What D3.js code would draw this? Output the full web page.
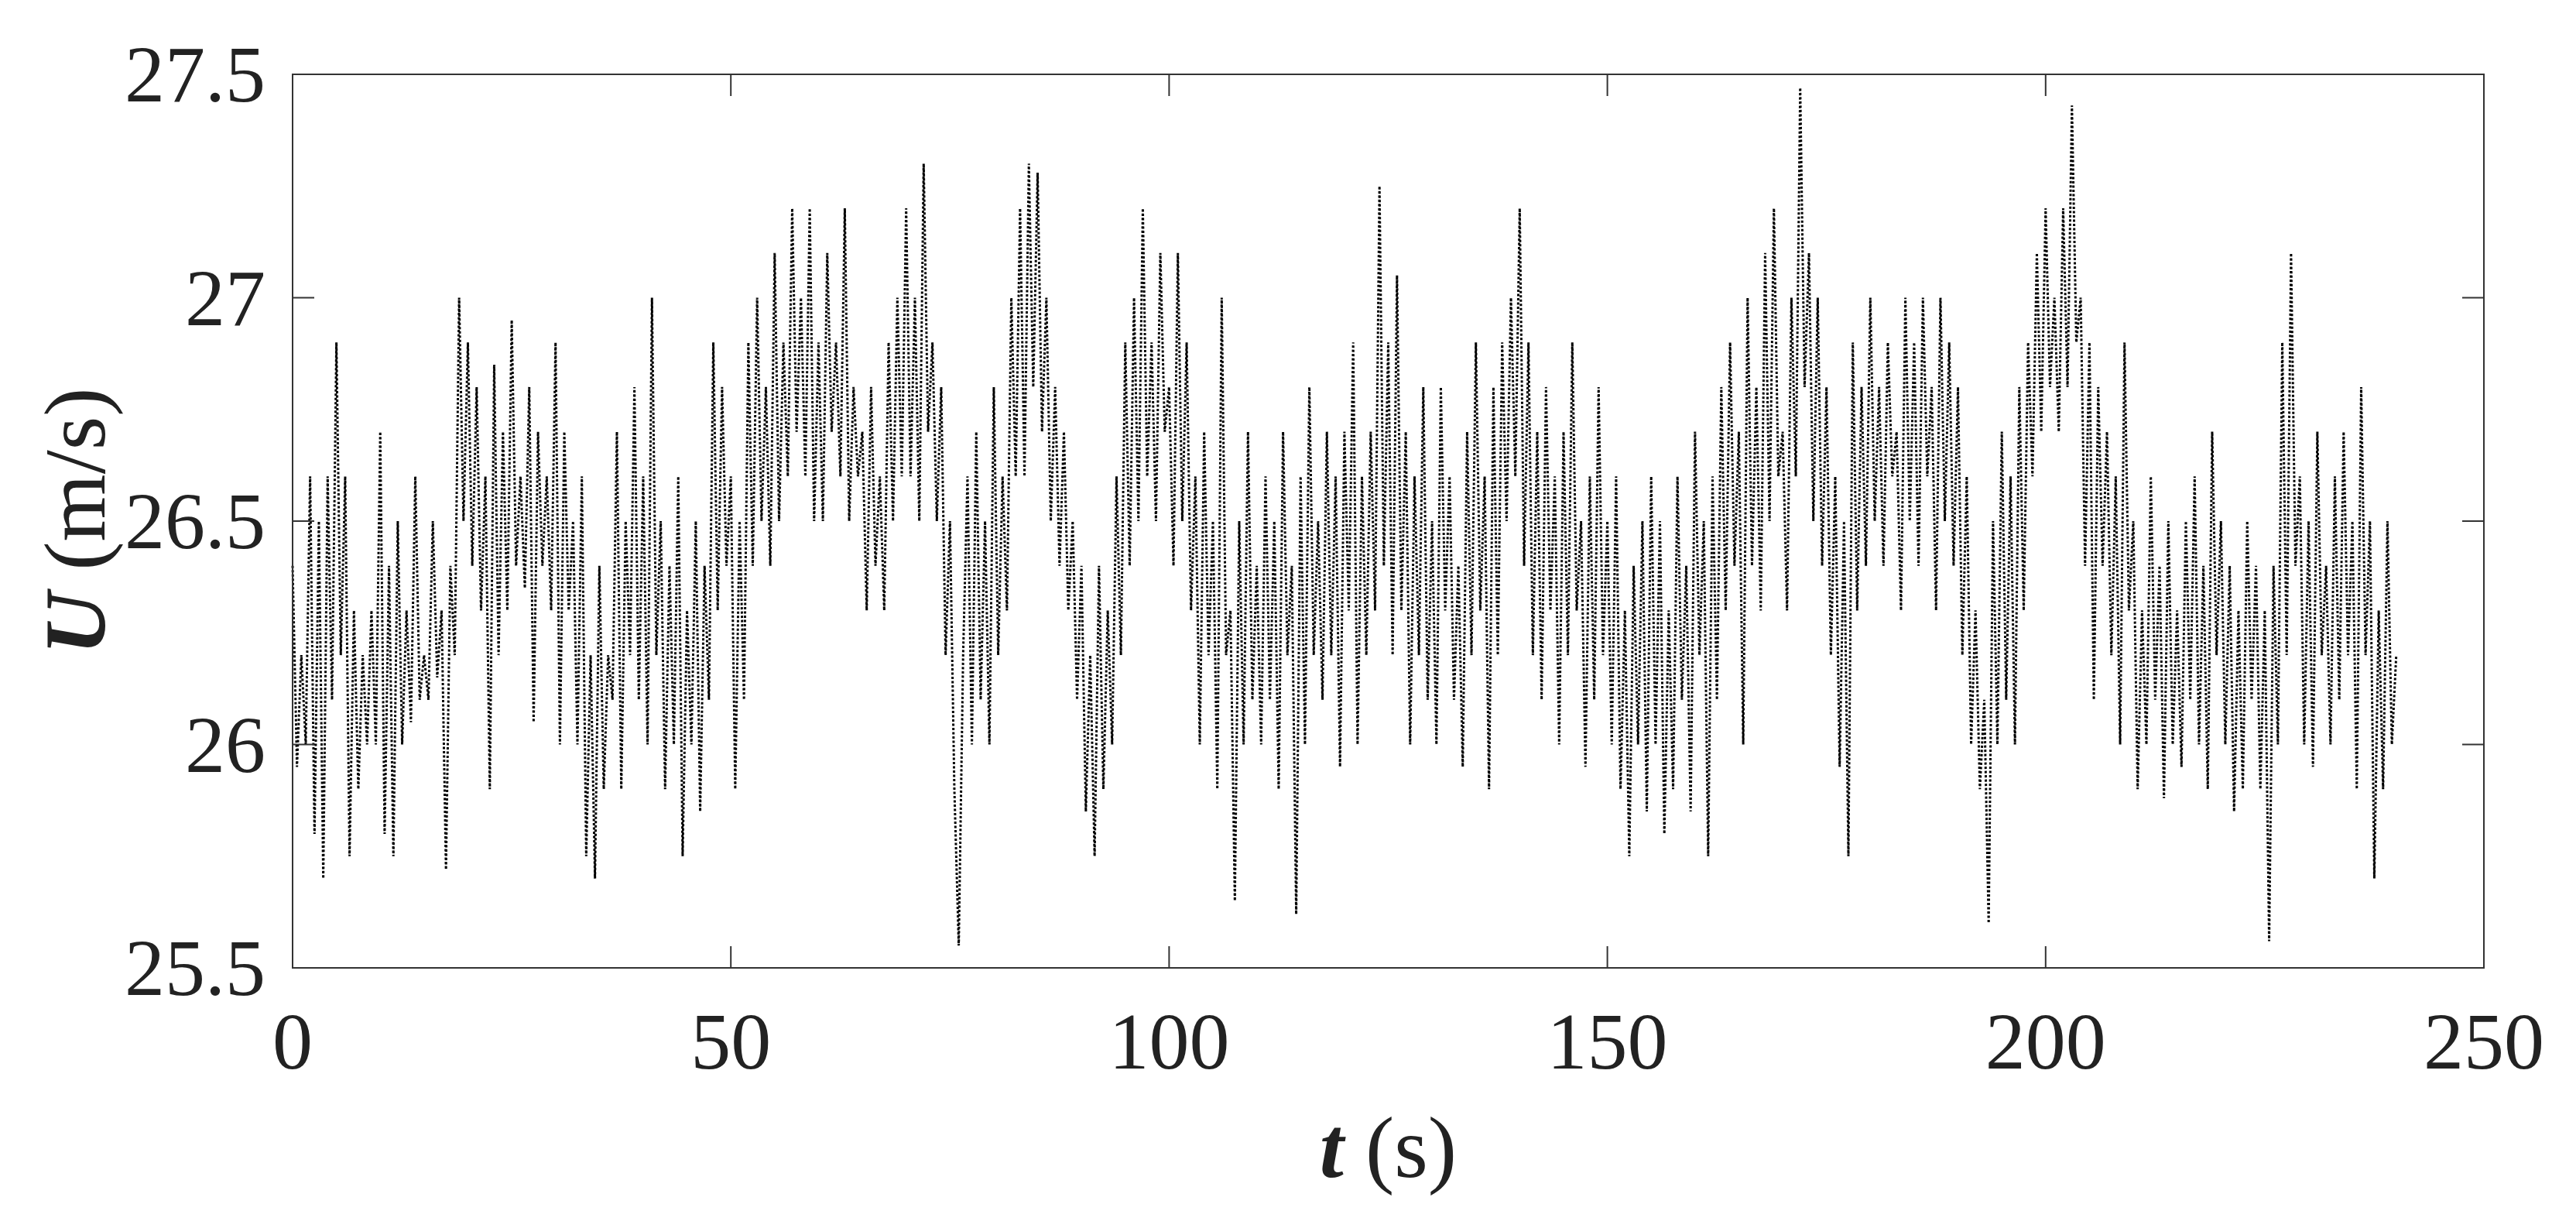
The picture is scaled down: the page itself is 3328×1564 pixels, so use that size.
<!DOCTYPE html>
<html><head><meta charset="utf-8">
<script src="https://cdn.jsdelivr.net/npm/d3@7"></script>
<style>body{margin:0;background:#fff}svg{display:block}</style>
</head><body>
<script>
const tStep = 0.5;
const uValues = [
26.4,25.95,26.2,26.0,26.6,25.8,26.5,25.7,26.6,26.1,
26.9,26.2,26.6,25.75,26.3,25.9,26.2,26.0,26.3,26.0,
26.7,25.8,26.4,25.75,26.5,26.0,26.3,26.05,26.6,26.1,
26.2,26.1,26.5,26.15,26.3,25.72,26.4,26.2,27.0,26.5,
26.9,26.4,26.8,26.3,26.6,25.9,26.85,26.2,26.7,26.3,
26.95,26.4,26.6,26.35,26.8,26.05,26.7,26.4,26.6,26.3,
26.9,26.0,26.7,26.3,26.5,26.0,26.6,25.75,26.2,25.7,
26.4,25.9,26.2,26.1,26.7,25.9,26.5,26.2,26.8,26.1,
26.6,26.0,27.0,26.2,26.5,25.9,26.4,26.0,26.6,25.75,
26.3,26.0,26.5,25.85,26.4,26.1,26.9,26.3,26.8,26.4,
26.6,25.9,26.5,26.1,26.9,26.4,27.0,26.5,26.8,26.4,
27.1,26.5,26.9,26.6,27.2,26.7,27.0,26.6,27.2,26.5,
26.9,26.5,27.1,26.7,26.9,26.6,27.2,26.5,26.8,26.6,
26.7,26.3,26.8,26.4,26.6,26.3,26.9,26.5,27.0,26.6,
27.2,26.6,27.0,26.5,27.3,26.7,26.9,26.5,26.8,26.2,
26.5,25.9,25.55,26.2,26.6,26.0,26.7,26.1,26.5,26.0,
26.8,26.2,26.6,26.3,27.0,26.6,27.2,26.6,27.3,26.8,
27.28,26.7,27.0,26.5,26.8,26.4,26.7,26.3,26.5,26.1,
26.4,25.85,26.2,25.75,26.4,25.9,26.3,26.0,26.6,26.2,
26.9,26.4,27.0,26.5,27.2,26.6,26.9,26.5,27.1,26.7,
26.8,26.4,27.1,26.5,26.9,26.3,26.6,26.0,26.7,26.2,
26.5,25.9,27.0,26.2,26.3,25.65,26.5,26.0,26.7,26.1,
26.4,26.0,26.6,26.1,26.5,25.9,26.7,26.2,26.4,25.62,
26.6,26.0,26.8,26.2,26.5,26.1,26.7,26.2,26.6,25.95,
26.7,26.3,26.9,26.0,26.6,26.2,26.7,26.3,27.25,26.4,
26.9,26.2,27.05,26.3,26.7,26.0,26.6,26.2,26.8,26.1,
26.5,26.0,26.8,26.3,26.6,26.1,26.4,25.95,26.7,26.2,
26.9,26.3,26.6,25.9,26.8,26.2,26.9,26.5,27.0,26.6,
27.2,26.4,26.9,26.2,26.7,26.1,26.8,26.3,26.6,26.0,
26.7,26.2,26.9,26.3,26.5,25.95,26.6,26.1,26.8,26.2,
26.5,26.0,26.6,25.9,26.3,25.75,26.4,26.0,26.5,25.85,
26.6,26.0,26.5,25.8,26.3,25.9,26.6,26.1,26.4,25.85,
26.7,26.2,26.5,25.75,26.6,26.1,26.8,26.3,26.9,26.4,
26.7,26.0,27.0,26.4,26.8,26.3,27.1,26.5,27.2,26.6,
26.7,26.3,27.0,26.6,27.47,26.8,27.1,26.5,27.0,26.4,
26.8,26.2,26.6,25.95,26.5,25.75,26.9,26.3,26.8,26.4,
27.0,26.5,26.8,26.4,26.9,26.6,26.7,26.3,27.0,26.5,
26.9,26.4,27.0,26.6,26.8,26.3,27.0,26.5,26.9,26.4,
26.8,26.2,26.6,26.0,26.3,25.9,26.1,25.6,26.5,26.0,
26.7,26.1,26.6,26.0,26.8,26.3,26.9,26.6,27.1,26.7,
27.2,26.8,27.0,26.7,27.2,26.8,27.43,26.9,27.0,26.4,
26.9,26.1,26.8,26.4,26.7,26.2,26.6,26.0,26.9,26.3,
26.5,25.9,26.3,26.0,26.6,26.1,26.4,25.88,26.5,26.0,
26.3,25.95,26.5,26.1,26.6,26.0,26.4,25.9,26.7,26.2,
26.5,26.0,26.4,25.85,26.3,25.9,26.5,26.1,26.4,25.9,
26.3,25.56,26.4,26.0,26.9,26.2,27.1,26.4,26.6,26.0,
26.5,25.95,26.7,26.2,26.4,26.0,26.6,26.1,26.7,26.2,
26.5,25.9,26.8,26.2,26.5,25.7,26.3,25.9,26.5,26.0,
26.2];
const xTicks = [0,50,100,150,200,250];
const yTicks = [25.5,26,26.5,27,27.5];

const W=3328,H=1564, L=378,R=3209,T=96,B=1250;
const svg=d3.select("body").append("svg").attr("width",W).attr("height",H);
const x=d3.scaleLinear().domain([0,250]).range([L,R]);
const y=d3.scaleLinear().domain([25.5,27.5]).range([B,T]);
const font="'Liberation Serif','Times New Roman',serif";
const data=uValues.map((v,i)=>[i*tStep,v]);

svg.append("path").datum(data)
  .attr("d",d3.line().x(d=>x(d[0])).y(d=>y(d[1])))
  .attr("fill","none").attr("stroke","#000").attr("stroke-width",3)
  .attr("stroke-dasharray","3,2.5");

svg.append("rect").attr("x",L).attr("y",T).attr("width",R-L).attr("height",B-T)
  .attr("fill","none").attr("stroke","#333").attr("stroke-width",2);

const tl=28;
const ga=svg.append("g").attr("stroke","#333").attr("stroke-width",2);
xTicks.forEach(t=>{
  ga.append("line").attr("x1",x(t)).attr("x2",x(t)).attr("y1",B).attr("y2",B-tl);
  ga.append("line").attr("x1",x(t)).attr("x2",x(t)).attr("y1",T).attr("y2",T+tl);
});
yTicks.forEach(v=>{
  ga.append("line").attr("y1",y(v)).attr("y2",y(v)).attr("x1",L).attr("x2",L+tl);
  ga.append("line").attr("y1",y(v)).attr("y2",y(v)).attr("x1",R).attr("x2",R-tl);
});

svg.append("g").selectAll("text").data(xTicks).join("text")
  .attr("x",d=>x(d)).attr("y",B+130).attr("text-anchor","middle")
  .attr("font-family",font).attr("font-size",104).attr("fill","#222").text(d=>d);
svg.append("g").selectAll("text").data(yTicks).join("text")
  .attr("x",L-35).attr("y",d=>y(d)+35).attr("text-anchor","end")
  .attr("font-family",font).attr("font-size",104).attr("fill","#222").text(d=>d);

const xt=svg.append("text").attr("x",(L+R)/2).attr("y",1520).attr("text-anchor","middle")
  .attr("font-family",font).attr("font-size",112).attr("fill","#222");
xt.append("tspan").attr("font-weight","bold").attr("font-style","italic").text("t");
xt.append("tspan").text(" (s)");

const yt=svg.append("text").attr("transform",`translate(135,${(T+B)/2}) rotate(-90)`)
  .attr("text-anchor","middle").attr("font-family",font).attr("font-size",112).attr("fill","#222");
yt.append("tspan").attr("font-weight","bold").attr("font-style","italic").text("U");
yt.append("tspan").text(" (m/s)");
</script>
</body></html>
